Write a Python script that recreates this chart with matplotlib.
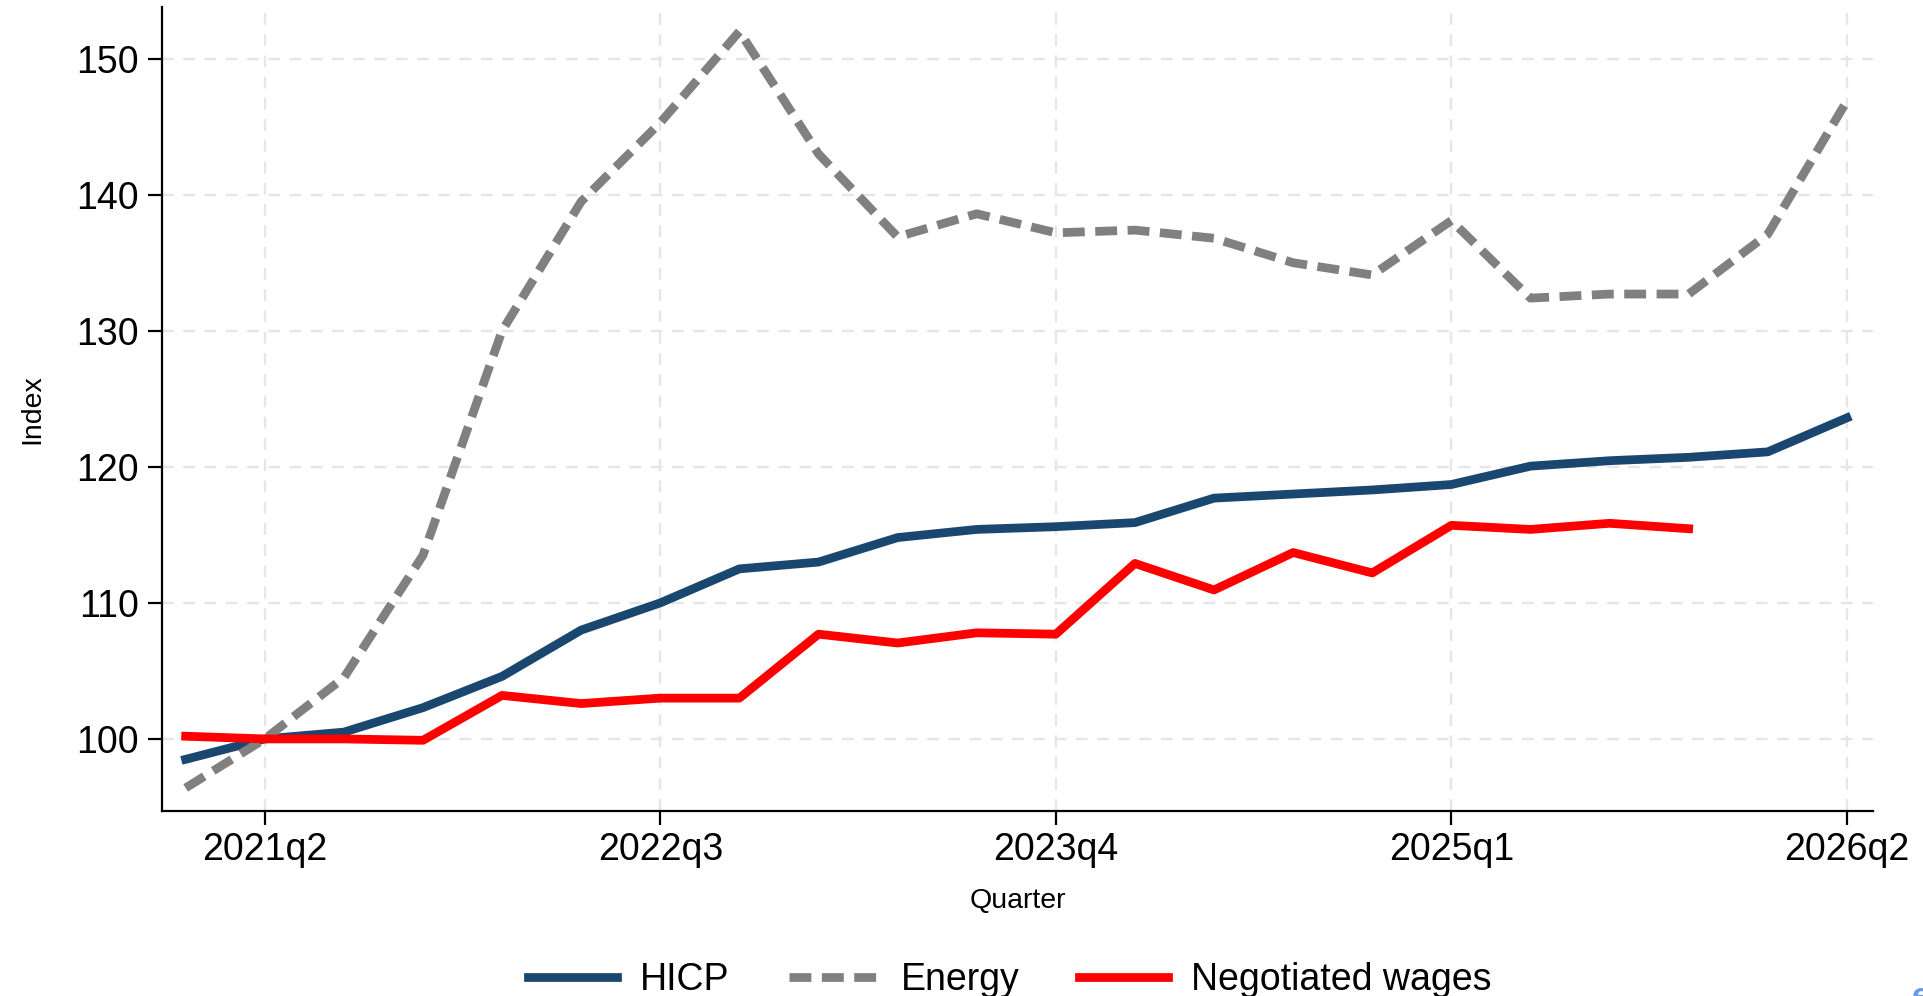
import numpy as np
import matplotlib
matplotlib.use("Agg")
import matplotlib.pyplot as plt

plt.rcParams['font.family'] = ['Liberation Sans', 'DejaVu Sans']

# quarters 2021q1 .. 2026q2
quarters = ['2021q1', '2021q2', '2021q3', '2021q4',
            '2022q1', '2022q2', '2022q3', '2022q4',
            '2023q1', '2023q2', '2023q3', '2023q4',
            '2024q1', '2024q2', '2024q3', '2024q4',
            '2025q1', '2025q2', '2025q3', '2025q4',
            '2026q1', '2026q2']

hicp = [98.5, 100.0, 100.5, 102.3,
        104.6, 108.0, 110.0, 112.5,
        113.0, 114.8, 115.4, 115.6,
        115.9, 117.7, 118.0, 118.3,
        118.7, 120.05, 120.45, 120.7,
        121.1, 123.6]

energy = [96.4, 100.0, 104.5, 113.5,
          130.0, 139.5, 145.3, 152.0,
          143.0, 136.9, 138.6, 137.2,
          137.4, 136.8, 135.0, 134.1,
          138.1, 132.4, 132.7, 132.7,
          137.1, 146.9]

wages = [100.2, 100.0, 100.0, 99.9,
         103.2, 102.6, 103.0, 103.0,
         107.7, 107.05, 107.8, 107.7,
         112.9, 110.95, 113.7, 112.2,
         115.7, 115.4, 115.85, 115.45]

tick_labels = ['2021q2', '2022q3', '2023q4', '2025q1', '2026q2']
y_ticks = [100, 110, 120, 130, 140, 150]

x = np.arange(len(quarters))
tick_pos = [quarters.index(q) for q in tick_labels]

fig = plt.figure(figsize=(19.23, 9.96), dpi=100)
ax = fig.add_axes([0.0842, 0.1857, 0.974 - 0.0842, 0.993 - 0.1857])

ax.plot(x, hicp, color='#1a476f', lw=6.3, label='HICP', zorder=3)
ax.plot(x, energy, color='#808080', lw=6.3, dashes=(2.5, 1.2), label='Energy', zorder=4)
ax.plot(x[:len(wages)], wages, color='#ff0000', lw=6.3, label='Negotiated wages', zorder=5)

ax.set_xlim(-0.30, 21.33)
ax.set_ylim(94.7, 153.8)
ax.set_xticks(tick_pos)
ax.set_xticklabels(tick_labels)
ax.set_yticks(y_ticks)

ax.grid(True, color='#e6e6e6', lw=1.7, linestyle=(0, (5, 4)))
ax.set_axisbelow(True)

for s in ['top', 'right']:
    ax.spines[s].set_visible(False)
for s in ['left', 'bottom']:
    ax.spines[s].set_linewidth(1.6)
    ax.spines[s].set_color('black')

ax.tick_params(axis='both', direction='out', length=9.8, width=1.6,
               labelsize=27, colors='black')
ax.tick_params(axis='x', pad=5)
ax.tick_params(axis='y', pad=7)

ax.set_ylabel('Index', fontsize=20.5, labelpad=22)
ax.set_xlabel('Quarter', fontsize=20.5, labelpad=15)

leg = fig.legend(loc='center', bbox_to_anchor=(0.525, 0.016), ncol=3, frameon=False,
                 fontsize=27, handlelength=2.37, handletextpad=0.6, columnspacing=1.6)

fig.text(0.9943, 0.014, 'e', color='#6a9be0', fontsize=24, fontweight='bold',
         ha='left', va='top')

fig.savefig('out.png', dpi=100)
